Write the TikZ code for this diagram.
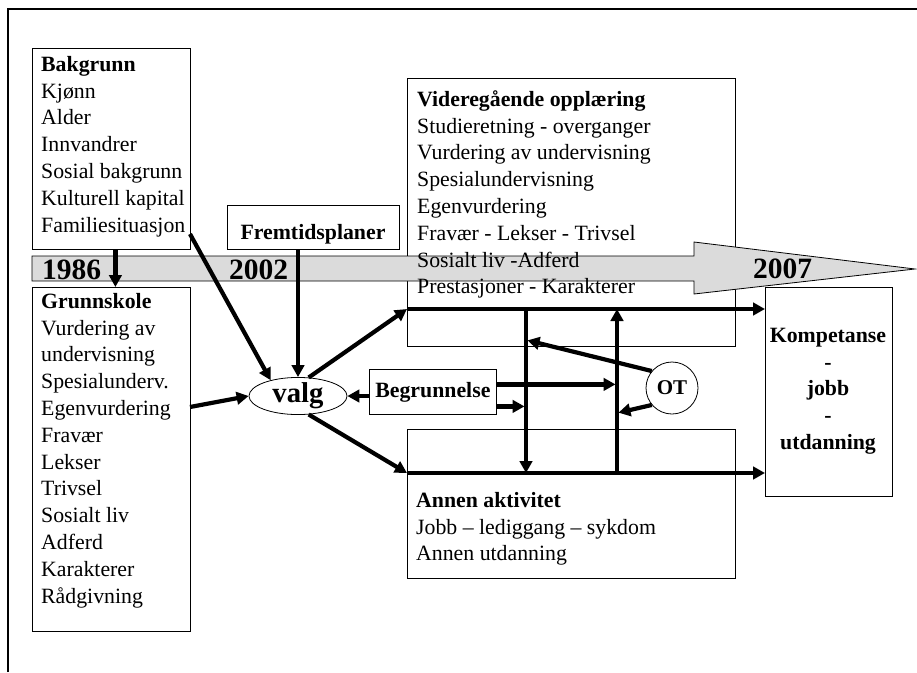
\documentclass[tikz,border=0pt]{standalone}
\usepackage{fontspec}
\setmainfont{Liberation Serif}
\usetikzlibrary{arrows.meta,shapes.geometric}

\tikzset{
	boks/.style={draw, line width=0.8pt, inner sep=0pt, anchor=north west},
	tekst/.style={anchor=north west, inner sep=0pt, align=left, font=\fontsize{21.8}{26.8}\selectfont},
	aar/.style={anchor=base west, inner sep=0pt, font=\fontsize{29.5}{30}\selectfont\bfseries},
	pil/.style={line width=4.2pt, -{Triangle[length=12pt,width=12.5pt]}}
}

\begin{document}
\begin{tikzpicture}[x=1pt,y=-1pt]
			\useasboundingbox (0,0) rectangle (917,672);
			
			% Frame (only top and left edge show)
			\draw[line width=2pt] (8,672) -- (8,9) -- (917,9);
			
			% Boxes
			\node[boks, minimum width=158pt, minimum height=201pt] (bakgrunn) at (32,48) {};
			\node[boks, minimum width=158pt, minimum height=344pt] (grunnskole) at (32,287) {};
			\node[boks, minimum width=172pt, minimum height=44pt] (fremtid) at (227,205) {};
			\node[boks, minimum width=328pt, minimum height=268pt] (vgs) at (407,78) {};
			\node[boks, minimum width=328pt, minimum height=149pt] (annen) at (407,429) {};
			\node[boks, minimum width=127pt, minimum height=209pt] (kompetanse) at (765,287) {};
			
			% Time line
			\draw[fill=black!14, line width=0.8pt] (32,256) -- (694,256) -- (694,242) -- (915,269)
				-- (694,294) -- (694,281) -- (32,281) -- cycle;
			\node[aar] (y1986) at (42,279) {1986};
			\node[aar] (y2002) at (229,279) {2002};
			\node[aar] (y2007) at (753,278) {2007};
			
			% Texts in the boxes
			\node[tekst] (bakgrunn tekst) at (41,52.3) {\strut\textbf{Bakgrunn}\\Kjønn\\Alder\\Innvandrer\\Sosial bakgrunn\\Kulturell kapital\\Familiesituasjon};
			\node[tekst] (grunnskole tekst) at (41,289.3) {\strut\textbf{Grunnskole}\\Vurdering av\\undervisning\\Spesialunderv.\\Egenvurdering\\Fravær\\Lekser\\Trivsel\\Sosialt liv\\Adferd\\Karakterer\\Rådgivning};
			\node[tekst] (vgs tekst) at (417,87.3) {\strut\textbf{Videregående opplæring}\\Studieretning - overganger\\Vurdering av undervisning\\Spesialundervisning\\Egenvurdering\\Fravær - Lekser - Trivsel\\Sosialt liv -Adferd\\Prestasjoner - Karakterer};
			\node[tekst] (annen tekst) at (416,488.3) {\strut\textbf{Annen aktivitet}\\Jobb – lediggang – sykdom\\Annen utdanning};
			\node[tekst, anchor=north, align=center, font=\fontsize{21.8}{26.8}\selectfont\bfseries] (kompetanse tekst) at (828,323.3) {\strut Kompetanse\\-\\jobb\\-\\utdanning};
			\node[anchor=base, inner sep=0pt, font=\fontsize{21.8}{26.8}\selectfont\bfseries] (fremtid tekst) at (313,239) {Fremtidsplaner};
			
			% Small nodes
			\node[boks, minimum width=127pt, minimum height=45pt, font=\fontsize{21.8}{26.8}\selectfont\bfseries] (begrunnelse) at (369,369) {Begrunnelse};
			\node[ellipse, draw, line width=0.8pt, inner sep=0pt, minimum width=98pt, minimum height=37pt, font=\fontsize{28.7}{30}\selectfont\bfseries] (valg) at (298,396) {valg};
			\node[circle, draw, line width=0.8pt, inner sep=0pt, minimum size=52pt, font=\fontsize{21}{24}\selectfont\bfseries] (ot) at (672,388) {OT};
			
			% Points on the lines
			\coordinate (familie) at (190,234);
			\coordinate (egenv) at (190,407);
			\coordinate (vgs inn) at (407,309);
			\coordinate (annen inn) at (407,473);
			\coordinate (ned topp) at (526,309);
			\coordinate (ned bunn) at (526,473);
			\coordinate (opp bunn) at (617,473);
			\coordinate (opp topp) at (617,309);
			\coordinate (ot ned) at (526,340);
			\coordinate (ot opp) at (617,413);
			\coordinate (begr hoy) at ([yshift=7.5pt]begrunnelse.east);
			\coordinate (begr lav) at ([yshift=-14.5pt]begrunnelse.east);
			
			% Arrows into valg
			\draw[pil] ([xshift=4pt]bakgrunn.south) -- ([xshift=4pt]grunnskole.north);
			\draw[pil] (familie) -- (valg.150);
			\draw[pil] (fremtid.south -| valg.north) -- (valg.north);
			\draw[pil] (egenv) -- (valg.west);
			\draw[pil] (begrunnelse.west |- valg.east) -- (valg.east);
			
			% Arrows out of valg
			\draw[pil] (valg.60) -- (vgs inn);
			\draw[pil] (valg.-60) -- (annen inn);
			\draw[pil] (vgs inn) -- (kompetanse.west |- vgs inn);
			\draw[pil] (annen inn) -- (kompetanse.west |- annen inn);
			
			% Crossing between the two ways
			\draw[pil] (ned topp) -- (ned bunn);
			\draw[pil] (opp bunn) -- (opp topp);
			\draw[pil, shorten >=1.5pt] (begr hoy) -- (begr hoy -| opp topp);
			\draw[pil, shorten >=1.5pt] (begr lav) -- (begr lav -| ned topp);
			\draw[pil, shorten >=1.5pt] (ot.140) -- (ot ned);
			\draw[pil, shorten >=1.5pt] (ot.220) -- (ot opp);
		\end{tikzpicture}
\end{document}
